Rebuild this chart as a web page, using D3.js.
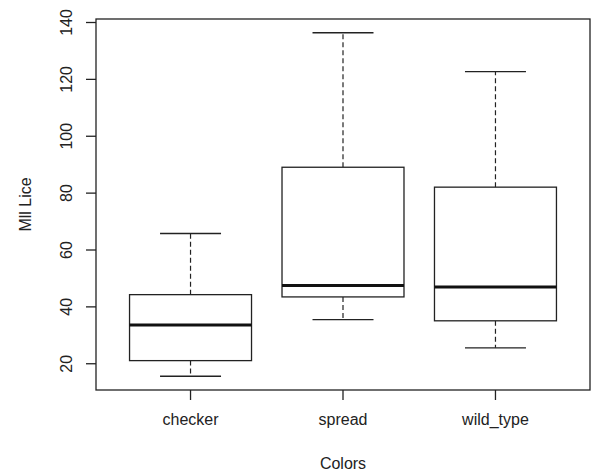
<!DOCTYPE html>
<head>
<meta charset="utf-8">
<style>
body { margin: 0; background: #fff; }
text { font-family: "Liberation Sans", Arial, sans-serif; fill: #222; }
</style>
</head>
<body>
<script src="https://cdn.jsdelivr.net/npm/d3@7"></script>
<script>

// box statistics
var groups     = ["checker", "spread", "wild_type"];
var lowWhisker = [15.6, 35.5, 25.6];
var lowerQ     = [21.1, 43.5, 35.1];
var medians    = [33.6, 47.5, 47.0];
var upperQ     = [44.3, 89.1, 82.1];
var highWhisker= [65.8, 136.4, 122.7];
var yTicks     = [20, 40, 60, 80, 100, 120, 140];

var width = 591, height = 472;
var plotLeft = 96, plotRight = 590, plotTop = 19, plotBottom = 390;

var svg = d3.select("body").append("svg")
    .attr("width", width)
    .attr("height", height);

// R style: 4% padding round the data range
var lo = d3.min(lowWhisker), hi = d3.max(highWhisker);
var pad = (hi - lo) * 0.04;
var y = d3.scaleLinear().domain([lo - pad, hi + pad]).range([plotBottom, plotTop]);
var x = d3.scaleLinear().domain([0.38, 3.62]).range([plotLeft, plotRight]);

var data = groups.map(function(g, i) {
  return {name: g, pos: i + 1, w0: lowWhisker[i], q1: lowerQ[i], med: medians[i], q3: upperQ[i], w1: highWhisker[i]};
});

// frame
svg.append("rect")
    .attr("x", plotLeft).attr("y", plotTop)
    .attr("width", plotRight - plotLeft).attr("height", plotBottom - plotTop)
    .attr("fill", "none").attr("stroke", "#222").attr("stroke-width", 1.3);

var box = svg.selectAll(".box").data(data).enter().append("g").attr("class", "box");

// dashed whiskers
box.append("line")
    .attr("x1", function(d) { return x(d.pos); }).attr("x2", function(d) { return x(d.pos); })
    .attr("y1", function(d) { return y(d.q3); }).attr("y2", function(d) { return y(d.w1); })
    .attr("stroke", "#222").attr("stroke-width", 1.2).attr("stroke-dasharray", "5,3");
box.append("line")
    .attr("x1", function(d) { return x(d.pos); }).attr("x2", function(d) { return x(d.pos); })
    .attr("y1", function(d) { return y(d.q1); }).attr("y2", function(d) { return y(d.w0); })
    .attr("stroke", "#222").attr("stroke-width", 1.2).attr("stroke-dasharray", "5,3");

// caps
["w0", "w1"].forEach(function(k) {
  box.append("line")
      .attr("x1", function(d) { return x(d.pos - 0.2); }).attr("x2", function(d) { return x(d.pos + 0.2); })
      .attr("y1", function(d) { return y(d[k]); }).attr("y2", function(d) { return y(d[k]); })
      .attr("stroke", "#222").attr("stroke-width", 1.3);
});

box.append("rect")
    .attr("x", function(d) { return x(d.pos - 0.4); })
    .attr("width", function(d) { return x(d.pos + 0.4) - x(d.pos - 0.4); })
    .attr("y", function(d) { return y(d.q3); })
    .attr("height", function(d) { return y(d.q1) - y(d.q3); })
    .attr("fill", "#fff").attr("stroke", "#222").attr("stroke-width", 1.3);

box.append("line")
    .attr("x1", function(d) { return x(d.pos - 0.4); }).attr("x2", function(d) { return x(d.pos + 0.4); })
    .attr("y1", function(d) { return y(d.med); }).attr("y2", function(d) { return y(d.med); })
    .attr("stroke", "#111").attr("stroke-width", 3);

// y axis, labels turned like R's las=0
var yAxis = svg.append("g");
yAxis.selectAll("line").data(yTicks).enter().append("line")
    .attr("x1", plotLeft - 10).attr("x2", plotLeft)
    .attr("y1", function(d) { return y(d); }).attr("y2", function(d) { return y(d); })
    .attr("stroke", "#222").attr("stroke-width", 1.3);
yAxis.selectAll("text").data(yTicks).enter().append("text")
    .attr("transform", function(d) { return "translate(72," + y(d) + ") rotate(-90)"; })
    .attr("text-anchor", "middle")
    .style("font-size", "16px")
    .text(function(d) { return d; });

// x axis
var xAxis = svg.append("g");
xAxis.selectAll("line").data(data).enter().append("line")
    .attr("x1", function(d) { return x(d.pos); }).attr("x2", function(d) { return x(d.pos); })
    .attr("y1", plotBottom).attr("y2", plotBottom + 10)
    .attr("stroke", "#222").attr("stroke-width", 1.3);
xAxis.selectAll("text").data(data).enter().append("text")
    .attr("x", function(d) { return x(d.pos); })
    .attr("y", 425)
    .attr("text-anchor", "middle")
    .style("font-size", "16px")
    .text(function(d) { return d.name; });

svg.append("text")
    .attr("x", (plotLeft + plotRight) / 2).attr("y", 469)
    .attr("text-anchor", "middle")
    .style("font-size", "16px")
    .text("Colors");

svg.append("text")
    .attr("transform", "translate(31," + ((plotTop + plotBottom) / 2) + ") rotate(-90)")
    .attr("text-anchor", "middle")
    .style("font-size", "16px")
    .text("Mll Lice");

</script>
</body>
</html>
